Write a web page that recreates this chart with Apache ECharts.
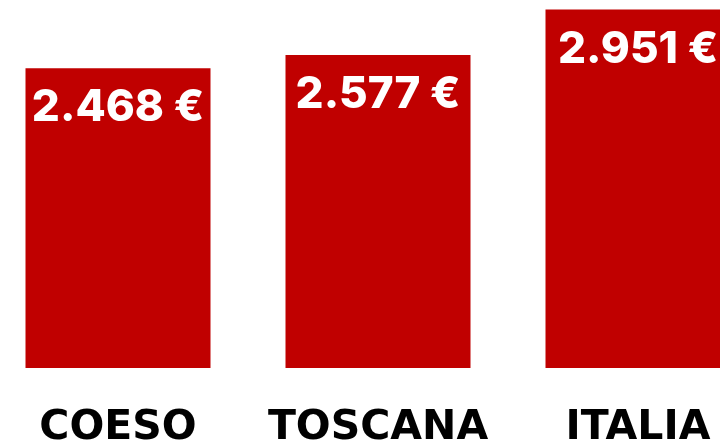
<!DOCTYPE html>
<html>
<head>
<meta charset="utf-8">
<script src="https://cdn.jsdelivr.net/npm/echarts@6/dist/echarts.min.js"></script>
<style>
  html, body { margin: 0; padding: 0; background: #fff; overflow: hidden; }
  #chart { width: 780px; height: 441px; margin-left: -12.5px; }
</style>
</head>
<body>
<div id="chart"></div>
<script>
// dati
var categories = ["COESO", "TOSCANA", "ITALIA"];
var values = [2468, 2577, 2951];

var chart = echarts.init(document.getElementById("chart"));
chart.setOption({
  animation: false,
  grid: {
    left: 0,
    right: 0,
    top: 3.5,
    bottom: 73,
    containLabel: false,
    outerBoundsMode: "none"
  },
  xAxis: {
    type: "category",
    data: categories,
    axisLine: { show: false },
    axisTick: { show: false },
    axisLabel: {
      interval: 0,
      margin: 40,
      color: "#000",
      fontSize: 41,
      fontWeight: "bold",
      fontFamily: "DejaVu Sans"
    }
  },
  yAxis: {
    type: "value",
    min: 0,
    max: 3000,
    show: false,
    splitLine: { show: false }
  },
  series: [
    {
      type: "bar",
      data: values,
      barWidth: 185,
      itemStyle: { color: "#C00000" },
      label: {
        show: true,
        position: "insideTop",
        distance: 18,
        color: "#fff",
        fontSize: 44,
        fontWeight: 800,
        fontFamily: "Inter",
        formatter: function (p) {
          return p.value.toLocaleString("it-IT") + " €";
        }
      }
    }
  ]
});
</script>
</body>
</html>
